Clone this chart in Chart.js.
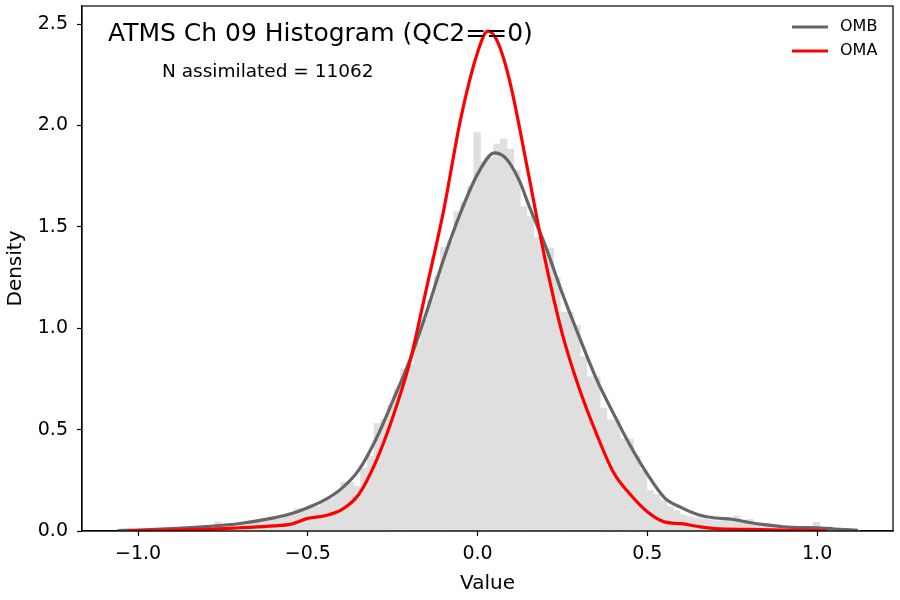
<!DOCTYPE html>
<html>
<head>
<meta charset="utf-8">
<script src="https://cdn.jsdelivr.net/npm/chart.js@4.4.1/dist/chart.umd.min.js"></script>
<style>
  html, body { margin: 0; padding: 0; background: #fff; }
  #wrap { width: 900px; height: 600px; }
</style>
</head>
<body>
<div id="wrap"><canvas id="hist_chart"></canvas></div>
<script>
// histogram: first bin center and width, then bar heights (density)
const binStart = -1.0402;
const binWidth = 0.0196;
const histHeights = [
  0.005, 0.005, 0.0, 0.01, 0.005, 0.01, 0.01, 0.015, 0.01, 0.015,
  0.02, 0.015, 0.02, 0.025, 0.045, 0.03, 0.03, 0.035, 0.04, 0.045,
  0.05, 0.06, 0.065, 0.07, 0.08, 0.09, 0.11, 0.10, 0.12, 0.12,
  0.14, 0.16, 0.19, 0.24, 0.24, 0.22, 0.31, 0.37, 0.53, 0.55,
  0.62, 0.70, 0.80, 0.82, 0.93, 1.04, 1.14, 1.26, 1.40, 1.43,
  1.575, 1.62, 1.70, 1.965, 1.82, 1.84, 1.908, 1.933, 1.884, 1.78,
  1.60, 1.55, 1.45, 1.39, 1.397, 1.25, 1.08, 1.08, 1.016, 0.86,
  0.76, 0.76, 0.605, 0.547, 0.547, 0.454, 0.454, 0.37, 0.30, 0.20,
  0.18, 0.15, 0.12, 0.10, 0.08, 0.07, 0.065, 0.06, 0.055, 0.05,
  0.05, 0.055, 0.074, 0.05, 0.057, 0.035, 0.03, 0.025, 0.02, 0.02,
  0.015, 0.015, 0.01, 0.015, 0.043, 0.01, 0.005, 0.005, 0.0, 0.005,
  0.005
];

// KDE curves
const ombX = [-1.06, -1.0, -0.9, -0.8, -0.7, -0.6, -0.55, -0.5, -0.45, -0.4, -0.35, -0.3, -0.25, -0.2, -0.15, -0.1, -0.05, 0.0, 0.05, 0.075, 0.1, 0.125, 0.15, 0.2, 0.25, 0.3, 0.35, 0.4, 0.45, 0.5, 0.55, 0.6, 0.65, 0.7, 0.75, 0.8, 0.85, 0.9, 0.95, 1.0, 1.05, 1.12];
const ombY = [0.002, 0.005, 0.012, 0.022, 0.037, 0.065, 0.085, 0.115, 0.153, 0.21, 0.30, 0.45, 0.64, 0.84, 1.08, 1.34, 1.57, 1.76, 1.865, 1.85, 1.80, 1.72, 1.61, 1.405, 1.17, 0.955, 0.75, 0.58, 0.42, 0.28, 0.165, 0.115, 0.08, 0.064, 0.058, 0.042, 0.03, 0.021, 0.017, 0.016, 0.01, 0.003];

const omaX = [-1.03, -0.9, -0.8, -0.7, -0.6, -0.55, -0.5, -0.45, -0.4, -0.35, -0.3, -0.25, -0.2, -0.15, -0.1, -0.05, 0.0, 0.03, 0.05, 0.075, 0.1, 0.15, 0.2, 0.25, 0.3, 0.35, 0.4, 0.45, 0.5, 0.55, 0.6, 0.65, 0.7, 0.8, 0.9, 1.03];
const omaY = [0.001, 0.004, 0.008, 0.016, 0.025, 0.034, 0.062, 0.075, 0.105, 0.18, 0.34, 0.56, 0.83, 1.20, 1.58, 2.03, 2.36, 2.465, 2.44, 2.34, 2.18, 1.76, 1.33, 0.97, 0.70, 0.48, 0.29, 0.18, 0.095, 0.045, 0.036, 0.022, 0.012, 0.008, 0.005, 0.001];

const titleText = 'ATMS Ch 09 Histogram (QC2==0)';
const subText = 'N assimilated = 11062';

function toPoints(xs, ys) {
  return xs.map(function(x, i) { return { x: x, y: ys[i] }; });
}

const histData = histHeights.map(function(h, i) {
  return { x: binStart + i * binWidth, y: h };
});

Chart.defaults.font.family = '"DejaVu Sans", sans-serif';
Chart.defaults.color = '#000';

// frame, in-plot title and legend (matplotlib style)
const frame = {
  id: 'frame',
  afterDraw(chart) {
    const ctx = chart.ctx;
    const a = chart.chartArea;
    ctx.save();
    ctx.strokeStyle = '#000';
    ctx.lineWidth = 1.2;
    ctx.strokeRect(a.left, a.top, a.right - a.left, a.bottom - a.top);
    ctx.fillStyle = '#000';
    ctx.textBaseline = 'middle';
    ctx.font = '25px "DejaVu Sans"';
    ctx.fillText(titleText, a.left + 26, a.top + 28);
    ctx.font = '18.5px "DejaVu Sans"';
    ctx.fillText(subText, a.left + 80, a.top + 66);

    const sets = chart.data.datasets.slice(1);
    ctx.font = '16px "DejaVu Sans"';
    sets.forEach(function(ds, i) {
      const y = a.top + 21 + i * 24;
      ctx.strokeStyle = ds.borderColor;
      ctx.lineWidth = 3;
      ctx.beginPath();
      ctx.moveTo(a.right - 101, y);
      ctx.lineTo(a.right - 65, y);
      ctx.stroke();
      ctx.fillText(ds.label, a.right - 53, y);
    });
    ctx.restore();
  }
};

function fmt(v) {
  const s = Math.abs(v).toFixed(1);
  return v < -1e-9 ? '\u2212' + s : s;
}

const ctx = document.getElementById('hist_chart');
new Chart(ctx, {
  type: 'bar',
  data: {
    datasets: [
      {
        type: 'bar',
        label: 'hist',
        data: histData,
        backgroundColor: '#dfdfdf',
        borderWidth: 0,
        barPercentage: 1.0,
        categoryPercentage: 1.0,
        grouped: false,
        order: 3
      },
      {
        type: 'line',
        label: 'OMB',
        data: toPoints(ombX, ombY),
        borderColor: '#666666',
        backgroundColor: '#666666',
        borderWidth: 3.2,
        pointRadius: 0,
        cubicInterpolationMode: 'monotone',
        order: 2
      },
      {
        type: 'line',
        label: 'OMA',
        data: toPoints(omaX, omaY),
        borderColor: '#ff0000',
        backgroundColor: '#ff0000',
        borderWidth: 3.2,
        pointRadius: 0,
        cubicInterpolationMode: 'monotone',
        order: 1
      }
    ]
  },
  options: {
    responsive: true,
    maintainAspectRatio: false,
    animation: false,
    layout: { padding: { top: 6, right: 7, left: 0, bottom: 0 } },
    plugins: {
      tooltip: { enabled: false },
      legend: { display: false }
    },
    scales: {
      x: {
        type: 'linear',
        min: -1.165,
        max: 1.2235,
        offset: false,
        ticks: {
          stepSize: 0.5,
          includeBounds: false,
          font: { size: 19 },
          color: '#000',
          padding: 7,
          maxRotation: 0,
          autoSkip: false,
          callback: function(v) { return fmt(v); }
        },
        grid: { offset: false, drawOnChartArea: false, drawTicks: true, tickLength: 5, tickColor: '#000', tickWidth: 1.2 },
        border: { display: true, color: '#000', width: 1.2 },
        title: { display: true, text: 'Value', font: { size: 20 }, color: '#000', padding: { top: 0, bottom: 4 } },
        afterFit: function(scale) { scale.height = 69; scale.paddingLeft = 0; scale.paddingRight = 0; }
      },
      y: {
        min: 0,
        max: 2.589,
        ticks: {
          stepSize: 0.5,
          includeBounds: false,
          font: { size: 19 },
          color: '#000',
          padding: 9,
          callback: function(v) { return fmt(v); }
        },
        grid: { drawOnChartArea: false, drawTicks: true, tickLength: 5, tickColor: '#000', tickWidth: 1.2 },
        border: { display: true, color: '#000', width: 1.2 },
        title: { display: true, text: 'Density', font: { size: 20 }, color: '#000', padding: { top: 4, bottom: 0 } },
        afterFit: function(scale) { scale.width = 82; scale.paddingTop = 0; scale.paddingBottom = 0; }
      }
    }
  },
  plugins: [frame]
});
</script>
</body>
</html>
